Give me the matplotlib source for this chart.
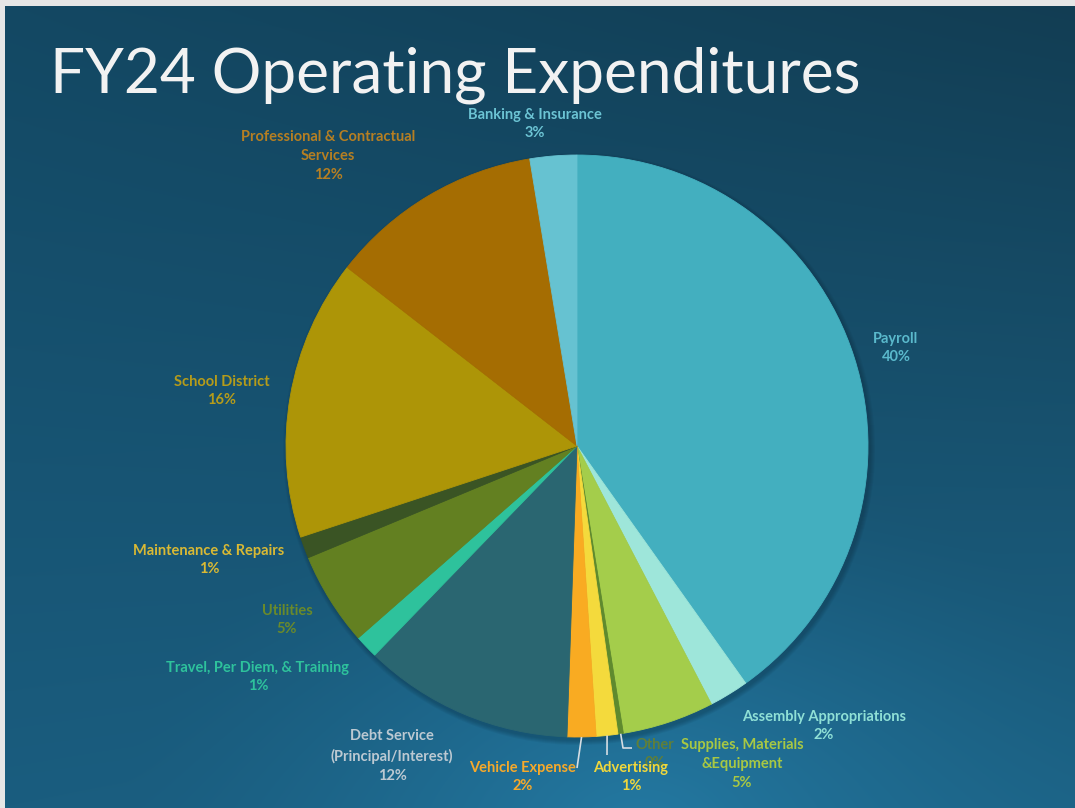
import numpy as np
import matplotlib
matplotlib.use('Agg')
import matplotlib.pyplot as plt
from matplotlib.colors import to_rgb
from matplotlib.patches import Circle, Rectangle

W, H = 1075, 808

TITLE = 'FY24 Operating Expenditures'

CATEGORIES = ['Payroll',
              'Assembly Appropriations',
              'Supplies, Materials\n&Equipment',
              'Other',
              'Advertising',
              'Vehicle Expense',
              'Debt Service\n(Principal/Interest)',
              'Travel, Per Diem, & Training',
              'Utilities',
              'Maintenance & Repairs',
              'School District',
              'Professional & Contractual\nServices',
              'Banking & Insurance']

# share of operating expenditures, percent
SHARES = [40.2, 2.2, 5.1, 0.3, 1.2, 1.6, 11.7, 1.3, 5.2, 1.2, 15.6, 11.9, 2.6]

SLICE_COLOURS = ['#43afbf', '#9ee6da', '#a4cd4b', '#5f8a2e', '#f4da3c',
                 '#f9ab22', '#2a6671', '#2ec29c', '#638021', '#3a5424',
                 '#ad9507', '#a56d02', '#66c2d1']
LABEL_COLOURS = ['#5ab9cc', '#8fe0d6', '#a8c843', '#5f7f3a', '#f0d73c',
                 '#f6a92a', '#bcc9d2', '#2ec29c', '#6a8a2a', '#d9b934',
                 '#b59c1a', '#b67f22', '#6cc4d4']

# label block centres, pixels from the top-left corner
LABEL_POS = [(896, 348), (824, 726), (742, 764), (655, 754), (631, 777),
             (523, 777), (392, 756), (258, 677), (287, 620), (209, 560),
             (222, 391), (328, 156), (535, 124)]

# leader line end points for the small bottom slices
LEADERS = {3: [(623, 748), (632, 748)],
           4: [(607, 755)],
           5: [(577, 768)]}

CENTER = (577, 446)
RADIUS = 291


def py(y):
    return H - y


def background():
    yy, xx = np.mgrid[0:H, 0:W]
    u = xx / (W - 1)
    v = yy / (H - 1)
    tl, tr = np.array(to_rgb('#134863')), np.array(to_rgb('#123d53'))
    bl, br = np.array(to_rgb('#1a5d7f')), np.array(to_rgb('#1c6386'))
    img = ((1 - u)[..., None] * (1 - v)[..., None] * tl
           + u[..., None] * (1 - v)[..., None] * tr
           + (1 - u)[..., None] * v[..., None] * bl
           + u[..., None] * v[..., None] * br)
    # lighter glow towards the bottom middle
    d = np.hypot((xx - 640) / 520, (yy - 830) / 380)
    glow = np.clip(1 - d, 0, 1) ** 1.5
    img = img * (1 - glow[..., None]) + np.array(to_rgb('#2479a2')) * glow[..., None]
    return img


fig = plt.figure(figsize=(W / 100, H / 100), dpi=100)
ax = fig.add_axes([0, 0, 1, 1])
ax.imshow(background(), extent=(0, W, 0, H), origin='upper', aspect='auto', zorder=0)

# soft shadow under the pie
cx, cy = CENTER[0], py(CENTER[1])
for i in range(5):
    ax.add_patch(Circle((cx + 2, cy - 3), RADIUS + 1 + i, facecolor='#061c2a',
                        edgecolor='none', alpha=0.06, zorder=1))

wedges, _ = ax.pie(SHARES, colors=SLICE_COLOURS, startangle=90, counterclock=False,
                   center=(cx, cy), radius=RADIUS,
                   wedgeprops=dict(linewidth=0.6, zorder=2))
for w, c in zip(wedges, SLICE_COLOURS):
    w.set_edgecolor(c)
    w.set_zorder(2)

total = sum(SHARES)
for i, (name, share) in enumerate(zip(CATEGORIES, SHARES)):
    x, y = LABEL_POS[i]
    ax.text(x, py(y), f'{name}\n{round(share / total * 100)}%',
            ha='center', va='center', multialignment='center',
            fontsize=10.5, fontweight='bold', family='Lato',
            color=LABEL_COLOURS[i], linespacing=1.45,
            zorder=4 if i != 3 else 3)

    if i in LEADERS:
        w = wedges[i]
        mid = np.deg2rad((w.theta1 + w.theta2) / 2)
        pts = [(cx + RADIUS * np.cos(mid), cy + RADIUS * np.sin(mid))]
        pts += [(px, py(qy)) for px, qy in LEADERS[i]]
        xs, ys = zip(*pts)
        ax.plot(xs, ys, color='#d5dde3', lw=1.2, zorder=3, solid_capstyle='butt')

ax.text(50, py(93), TITLE, fontsize=44.7, family='Lato', color='#f2f2f2',
        va='baseline', ha='left', zorder=5)

# thin light frame along the top and left edges
ax.add_patch(Rectangle((0, H - 6), W, 6, facecolor='#e6e6e6', edgecolor='none', zorder=6))
ax.add_patch(Rectangle((0, 0), 5, H, facecolor='#e6e6e6', edgecolor='none', zorder=6))

ax.set_xlim(0, W)
ax.set_ylim(0, H)
ax.set_aspect('auto')
ax.axis('off')

fig.savefig('out.png', dpi=100)
